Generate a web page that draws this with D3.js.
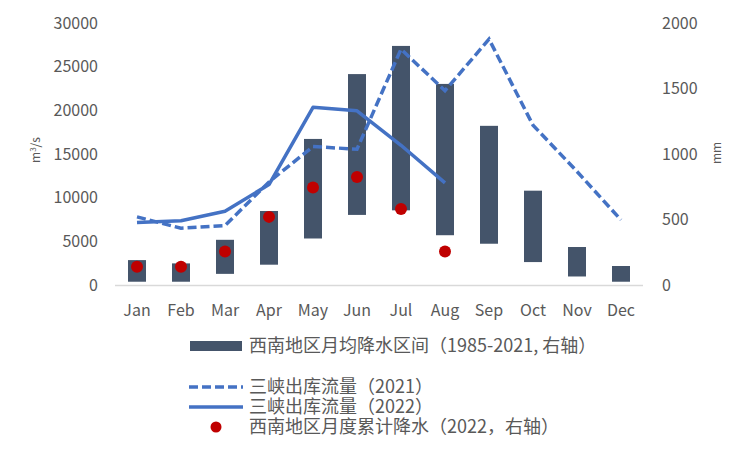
<!DOCTYPE html>
<html><head><meta charset="utf-8">
<script src="https://cdn.jsdelivr.net/npm/d3@7/dist/d3.min.js"></script>
<style>body{margin:0;background:#fff;} text{font-family:"Noto Sans CJK SC","Noto Sans",sans-serif;}</style>
</head><body><svg id="c" width="750" height="450"></svg>
<script>
const months = ["Jan","Feb","Mar","Apr","May","Jun","Jul","Aug","Sep","Oct","Nov","Dec"];
const rainLow  = [25, 25, 85, 155, 355, 535, 570, 380, 315, 175, 65, 25];
const rainHigh = [190, 165, 345, 565, 1115, 1610, 1825, 1535, 1215, 720, 290, 145];
const flow2021 = [7800, 6500, 6800, 11800, 15850, 15550, 27000, 22250, 28150, 18300, 13000, 7450];
const flow2022 = [7150, 7350, 8450, 11500, 20350, 19950, 16000, 11700];
const rain2022 = [140, 140, 255, 520, 745, 825, 580, 255];
const leftTicks = [0, 5000, 10000, 15000, 20000, 25000, 30000];
const rightTicks = [0, 500, 1000, 1500, 2000];
const legendLabels = ["西南地区月均降水区间（1985-2021, 右轴）","三峡出库流量（2021）","三峡出库流量（2022）","西南地区月度累计降水（2022，右轴）"];

const svg = d3.select("#c");
const x = d3.scaleBand().domain(months).range([115, 643]);
const yL = d3.scaleLinear().domain([0, 30000]).range([285, 23]);
const yR = d3.scaleLinear().domain([0, 2000]).range([285, 23]);
const txt = "#595959";
const blue = "#4472C4", bar = "#44546A", red = "#C00000";

// axis line
svg.append("line").attr("x1",115).attr("x2",643).attr("y1",285.5).attr("y2",285.5).attr("stroke","#d9d9d9").attr("stroke-width",1.5);

// left ticks
svg.append("g").selectAll("text").data(leftTicks).join("text")
  .attr("x",98).attr("y",d=>yL(d)).attr("dy","0.35em").attr("text-anchor","end")
  .attr("font-size",16).attr("fill",txt).text(d=>d);
svg.append("g").selectAll("text").data(rightTicks).join("text")
  .attr("x",662).attr("y",d=>yR(d)).attr("dy","0.35em").attr("text-anchor","start")
  .attr("font-size",16).attr("fill",txt).text(d=>d);
// x labels
svg.append("g").selectAll("text").data(months).join("text")
  .attr("x",d=>x(d)+x.bandwidth()/2).attr("y",310).attr("dy","0.35em").attr("text-anchor","middle")
  .attr("font-size",16).attr("fill",txt).text(d=>d);
// axis titles
svg.append("text").attr("transform","translate(40,150) rotate(-90)").attr("text-anchor","middle")
  .attr("font-size",12).attr("fill",txt).html("m<tspan font-size='8' dy='-4'>3</tspan><tspan dy='4'>/s</tspan>");
svg.append("text").attr("transform","translate(721,153) rotate(-90)").attr("text-anchor","middle")
  .attr("font-size",12).attr("fill",txt).text("mm");

// bars
const bw = 18;
svg.append("g").selectAll("rect").data(months).join("rect")
  .attr("x",d=>x(d)+x.bandwidth()/2-bw/2).attr("width",bw)
  .attr("y",(d,i)=>yR(rainHigh[i])).attr("height",(d,i)=>yR(rainLow[i])-yR(rainHigh[i]))
  .attr("fill",bar);

const cx = d=>x(d)+x.bandwidth()/2;
const line21 = d3.line().x((d,i)=>cx(months[i])).y(d=>yL(d));
svg.append("path").attr("d",line21(flow2021)).attr("fill","none").attr("stroke",blue)
  .attr("stroke-width",3.5).attr("stroke-dasharray","9,4");
svg.append("path").attr("d",line21(flow2022)).attr("fill","none").attr("stroke",blue)
  .attr("stroke-width",3.5).attr("stroke-linejoin","round");

svg.append("g").selectAll("circle").data(rain2022).join("circle")
  .attr("cx",(d,i)=>cx(months[i])).attr("cy",d=>yR(d)).attr("r",6).attr("fill",red);

// legend
const lg = svg.append("g");
lg.append("rect").attr("x",190).attr("y",341).attr("width",52).attr("height",10).attr("fill",bar);
lg.append("line").attr("x1",189).attr("x2",243).attr("y1",387).attr("y2",387).attr("stroke",blue).attr("stroke-width",3.5).attr("stroke-dasharray","9,4");
lg.append("line").attr("x1",189).attr("x2",243).attr("y1",407).attr("y2",407).attr("stroke",blue).attr("stroke-width",3.5);
lg.append("circle").attr("cx",216).attr("cy",427).attr("r",5.5).attr("fill",red);
const ly = [346, 387, 407, 427];
lg.selectAll("text.l").data(legendLabels).join("text").attr("class","l")
  .attr("x",249).attr("y",(d,i)=>ly[i]).attr("dy","0.35em")
  .attr("font-size",18).attr("fill",txt).text(d=>d);
</script></body></html>
